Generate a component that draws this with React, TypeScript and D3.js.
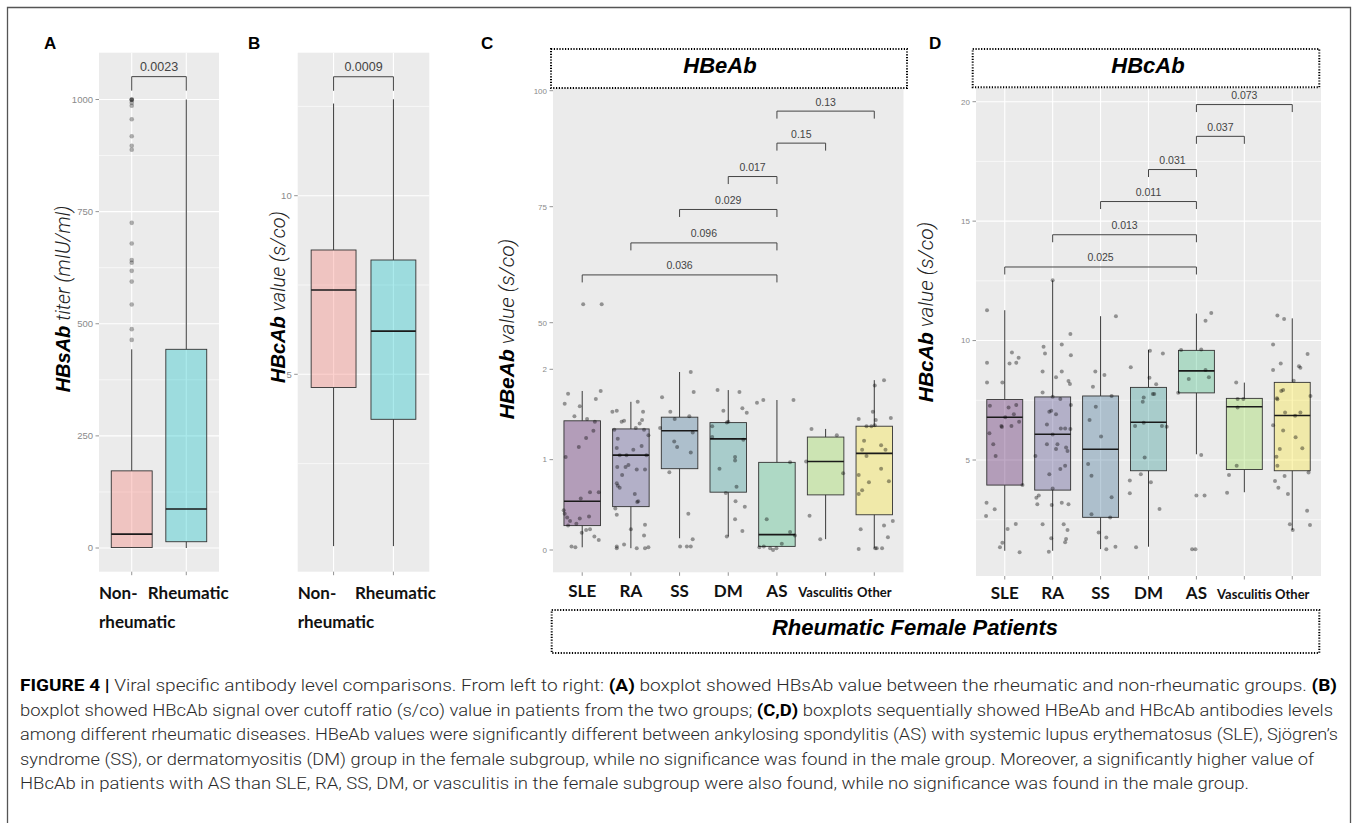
import React from "react";
import * as d3 from "d3";

const W = 1357;
const H = 823;

// ---------- Panel A : HBsAb titer ----------
const abCategories = ["Non-rheumatic", "Rheumatic"];
const hbsQ1 = [1, 14];
const hbsMedian = [31, 87];
const hbsQ3 = [172, 443];
const hbsLow = [0, 0];
const hbsHigh = [443, 1000];
const hbsOutliers = [464, 488, 543, 594, 618, 636, 642, 679, 725, 888, 897, 918, 956, 986, 993, 999, 1000, 1000];
const hbsTicks = [0, 250, 500, 750, 1000];
const hbsMinor = [125, 375, 625, 875];
const hbsP = "0.0023";

// ---------- Panel B : HBcAb value ----------
const hbcQ1 = [4.63, 3.74];
const hbcMedian = [7.36, 6.21];
const hbcQ3 = [8.48, 8.2];
const hbcLow = [0.19, 0.19];
const hbcHigh = [12.58, 12.7];
const hbcTicks = [5, 10];
const hbcMinor = [2.5, 7.5, 12.5];
const hbcP = "0.0009";

// ---------- Panel C : HBeAb by disease ----------
const diseases = ["SLE", "RA", "SS", "DM", "AS", "Vasculitis", "Other"];
const heQ1 = [0.27, 0.48, 0.9, 0.64, 0.04, 0.61, 0.39];
const heMedian = [0.54, 1.05, 1.32, 1.23, 0.17, 0.98, 1.07];
const heQ3 = [1.43, 1.34, 1.47, 1.41, 0.97, 1.25, 1.37];
const heLow = [0.03, 0.02, 0.13, 0.15, 0.04, 0.12, 0.02];
const heHigh = [1.76, 1.64, 1.97, 1.77, 1.66, 1.34, 1.88];
const heTicks = [0, 1, 2, 50, 75, 100];
const heBracketFrom = [0, 1, 2, 3, 4, 4];
const heBracketTo = [4, 4, 4, 4, 5, 6];
const heBracketLevel = [60.3, 67.2, 74.4, 81.5, 88.7, 95.6];
const heBracketP = ["0.036", "0.096", "0.029", "0.017", "0.15", "0.13"];
// jittered points: [offset within category, value]
const hePoints: [number, number][][] = [
  [[-0.29,1.73],[-0.36,1.62],[0.28,1.67],[0.38,1.76],[-0.05,1.59],[-0.16,1.48],[0.10,1.45],[0.26,1.42],[0.23,1.32],[0.08,1.24],[-0.07,1.14],[-0.34,1.03],[0.16,0.64],[-0.03,0.57],[0.34,0.64],[-0.38,0.44],[-0.36,0.40],[-0.31,0.36],[-0.25,0.32],[-0.29,0.27],[-0.05,0.35],[0.14,0.37],[-0.12,0.29],[-0.01,0.19],[0.08,0.22],[0.16,0.23],[0.25,0.15],[0.34,0.11],[-0.22,0.04],[-0.14,0.03],[0.02,54],[0.4,54]],
  [[-0.38,1.53],[-0.29,1.54],[-0.19,1.42],[-0.14,1.43],[0.14,1.64],[0.25,1.53],[0.18,1.40],[0.23,1.44],[0.10,1.35],[-0.34,1.33],[-0.27,1.23],[-0.29,1.13],[-0.23,1.05],[-0.09,1.05],[0.05,1.11],[0.22,1.15],[0.36,1.27],[0.27,1.33],[0.32,1.05],[-0.28,0.92],[-0.11,0.92],[-0.05,0.94],[-0.18,0.83],[0.12,0.89],[0.29,0.89],[-0.29,0.74],[-0.27,0.71],[-0.23,0.69],[0.08,0.62],[0.15,0.54],[0.13,0.53],[-0.29,0.39],[-0.32,0.46],[0.0,0.23],[0.29,0.28],[0.27,0.16],[-0.29,0.04],[-0.29,0.02],[-0.14,0.06],[0.12,0.02],[0.29,0.02],[0.36,0.03]],
  [[-0.36,1.69],[-0.19,1.53],[-0.40,1.35],[-0.10,1.45],[-0.11,1.20],[-0.05,1.14],[0.20,1.48],[0.27,1.30],[0.23,1.08],[0.29,1.75],[0.23,1.97],[-0.21,0.86],[0.18,0.40],[0.01,0.04],[0.15,0.04],[0.23,0.04],[0.27,0.12]],
  [[-0.22,1.77],[0.23,1.75],[-0.10,1.54],[0.29,1.57],[0.38,1.52],[-0.33,1.37],[0.0,1.42],[-0.03,1.41],[-0.33,1.25],[0.31,1.22],[0.14,1.03],[0.14,0.99],[-0.18,0.90],[0.17,0.70],[-0.05,0.63],[0.15,0.54],[0.34,0.48],[0.14,0.34],[0.29,0.21],[-0.03,0.15]],
  [[-0.41,1.63],[-0.28,1.66],[0.34,1.66],[-0.21,0.34],[0.27,0.97],[-0.36,0.03],[-0.27,0.04],[-0.14,0.02],[-0.08,0.0],[-0.01,0.02],[0.10,0.07],[0.27,0.20],[0.37,0.16]],
  [[-0.29,1.34],[-0.40,0.98],[0.23,1.27],[0.36,0.85],[-0.33,0.38],[-0.11,0.12]],
  [[-0.32,1.45],[-0.16,1.37],[-0.06,1.37],[0.01,1.38],[0.03,1.44],[-0.03,1.53],[0.01,1.82],[0.20,1.88],[0.34,1.46],[-0.21,1.21],[0.14,1.16],[-0.25,1.11],[-0.16,1.04],[0.23,1.11],[0.14,0.90],[-0.32,0.83],[-0.11,0.75],[0.30,0.76],[-0.25,0.66],[-0.32,0.62],[-0.28,0.23],[0.20,0.27],[0.38,0.32],[0.28,0.14],[-0.32,0.01],[0.02,0.02],[0.05,0.02],[0.16,0.02]],
];

// ---------- Panel D : HBcAb by disease ----------
const hcQ1 = [3.95, 3.74, 2.6, 4.55, 7.81, 4.6, 4.55];
const hcMedian = [6.79, 6.08, 5.45, 6.58, 8.73, 7.23, 6.86];
const hcQ3 = [7.53, 7.64, 7.68, 8.04, 9.59, 7.58, 8.25];
const hcLow = [1.2, 1.2, 1.27, 1.37, 5.24, 3.65, 2.07];
const hcHigh = [11.27, 12.52, 11.02, 9.61, 11.13, 8.24, 10.93];
const hcTicks = [5, 10, 15, 20];
const hcMinor = [2.5, 7.5, 12.5, 17.5];
const hcBracketFrom = [0, 1, 2, 3, 4, 4];
const hcBracketTo = [4, 4, 4, 4, 5, 6];
const hcBracketLevel = [13.08, 14.43, 15.82, 17.16, 18.55, 19.88];
const hcBracketP = ["0.025", "0.013", "0.011", "0.031", "0.037", "0.073"];
const hcPoints: [number, number][][] = [
  [[-0.37,9.07],[-0.37,8.24],[-0.05,8.24],[0.15,9.50],[0.10,9.04],[0.24,9.07],[0.29,9.28],[-0.31,7.27],[0.08,7.20],[0.24,7.30],[0.19,6.92],[-0.32,6.12],[-0.24,5.66],[-0.19,5.17],[-0.07,6.42],[-0.06,6.38],[0.01,6.79],[0.14,6.42],[0.30,6.60],[0.37,3.95],[-0.38,3.21],[-0.21,2.94],[-0.39,2.66],[0.06,2.11],[0.23,2.32],[-0.05,1.54],[-0.10,1.35],[0.31,1.14],[-0.37,11.27]],
  [[-0.19,9.74],[-0.16,9.46],[0.37,10.27],[0.19,9.84],[0.38,9.39],[-0.21,8.70],[0.19,8.70],[0.07,8.46],[0.33,8.31],[0.36,8.18],[-0.21,7.83],[0.0,7.65],[0.16,7.55],[0.38,7.30],[-0.03,7.06],[-0.07,7.02],[0.07,6.92],[-0.12,6.49],[0.17,6.32],[0.26,6.32],[0.37,6.30],[0.0,6.07],[-0.12,5.66],[0.10,5.66],[0.31,5.38],[0.28,5.52],[-0.36,5.17],[0.07,5.46],[0.16,4.62],[0.26,4.76],[-0.07,4.40],[0.0,3.81],[-0.34,3.42],[-0.29,3.51],[-0.32,3.15],[-0.02,3.12],[0.19,3.21],[0.33,3.15],[-0.21,2.31],[0.23,2.31],[0.31,2.07],[-0.03,1.72],[0.28,1.69],[0.26,1.56],[-0.08,1.16],[0.0,12.52]],
  [[-0.11,8.70],[0.08,8.56],[-0.16,8.07],[0.23,7.68],[-0.10,7.23],[-0.23,6.67],[0.01,5.98],[-0.26,4.83],[-0.19,4.34],[0.23,3.44],[-0.19,2.73],[0.20,2.59],[-0.04,1.97],[0.12,1.76],[0.12,1.26],[0.31,1.37],[0.32,11.02]],
  [[-0.37,8.88],[0.03,9.57],[0.30,9.46],[0.02,8.44],[0.16,8.17],[0.12,7.76],[0.09,7.76],[-0.10,7.62],[-0.12,7.44],[-0.28,6.42],[-0.10,6.56],[0.28,6.42],[0.38,6.39],[-0.08,5.10],[-0.16,4.40],[-0.39,4.14],[0.05,4.07],[-0.39,3.61],[0.23,2.95],[-0.26,1.35]],
  [[-0.32,9.60],[0.10,9.63],[0.19,8.77],[-0.16,8.39],[0.26,8.46],[-0.38,7.82],[0.19,10.83],[0.31,11.15],[0.10,5.21],[0.0,3.51],[0.17,3.51],[-0.09,1.26],[-0.02,1.26]],
  [[-0.17,8.24],[-0.14,7.55],[-0.02,7.55],[-0.14,7.20],[-0.16,4.76],[-0.32,4.37],[-0.36,3.63]],
  [[-0.40,9.84],[-0.40,8.77],[-0.24,9.04],[0.14,8.93],[0.17,8.86],[0.32,9.44],[0.03,8.32],[-0.19,7.93],[-0.23,7.89],[-0.32,7.58],[-0.31,7.54],[0.38,7.68],[-0.15,6.99],[0.17,6.99],[0.06,6.85],[-0.40,6.46],[-0.19,6.23],[0.07,5.95],[-0.26,5.46],[0.21,5.49],[-0.33,5.14],[-0.31,4.76],[0.34,4.48],[-0.16,4.33],[-0.36,4.12],[-0.29,3.84],[-0.09,3.58],[0.31,2.88],[-0.05,2.31],[0.01,2.07],[0.37,2.28],[-0.31,11.05],[-0.17,10.90]],
];

const abColors = ["#F8766D", "#00BFC4"];
const diseaseColors = ["#440154", "#443983", "#31688E", "#21908C", "#35B779", "#8FD744", "#FDE725"];

const captionLines: { t: string; b?: boolean }[][] = [
  [{ t: "FIGURE 4 | ", b: true }, { t: "Viral specific antibody level comparisons. From left to right: " }, { t: "(A)", b: true }, { t: " boxplot showed HBsAb value between the rheumatic and non-rheumatic groups. " }, { t: "(B)", b: true }],
  [{ t: "boxplot showed HBcAb signal over cutoff ratio (s/co) value in patients from the two groups; " }, { t: "(C,D)", b: true }, { t: " boxplots sequentially showed HBeAb and HBcAb antibodies levels" }],
  [{ t: "among different rheumatic diseases. HBeAb values were significantly different between ankylosing spondylitis (AS) with systemic lupus erythematosus (SLE), Sjögren’s" }],
  [{ t: "syndrome (SS), or dermatomyositis (DM) group in the female subgroup, while no significance was found in the male group. Moreover, a significantly higher value of" }],
  [{ t: "HBcAb in patients with AS than SLE, RA, SS, DM, or vasculitis in the female subgroup were also found, while no significance was found in the male group." }],
];
const captionEnds = [1337, 1333, 1338, 1314, 1249];

const AXIS_FONT = "'Liberation Sans', Arial, Helvetica, sans-serif";
const LABEL_FONT = "Lato, 'Open Sans', sans-serif";

type PanelProps = {
  left: number; right: number; top: number; bottom: number; n: number;
  y: (v: number) => number;
  q1: number[]; med: number[]; q3: number[]; lo: number[]; hi: number[];
  fills: string[]; fillOpacity: number;
  points?: [number, number][][];
  outliers?: number[];
  gridMajor: number[]; gridMinor: number[]; vertical: boolean;
  ticks: number[]; tickSize: number;
};

function BoxPanel(p: PanelProps) {
  const x = d3.scaleLinear().domain([-0.6, p.n - 0.4]).range([p.left, p.right]);
  const step = x(1) - x(0);
  const bw = step * 0.75;
  const inside = (v: number) => p.y(v) >= p.top && p.y(v) <= p.bottom;
  const idx = d3.range(p.n);
  return (
    <g>
      <rect x={p.left} y={p.top} width={p.right - p.left} height={p.bottom - p.top} fill="#EBEBEB" />
      {p.gridMinor.filter(inside).map((v) => (
        <line key={"mi" + v} x1={p.left} x2={p.right} y1={p.y(v)} y2={p.y(v)} stroke="#fff" strokeWidth={0.6} />
      ))}
      {p.gridMajor.filter(inside).map((v) => (
        <line key={"ma" + v} x1={p.left} x2={p.right} y1={p.y(v)} y2={p.y(v)} stroke="#fff" strokeWidth={1.1} />
      ))}
      {p.vertical && idx.map((i) => (
        <line key={"v" + i} x1={x(i)} x2={x(i)} y1={p.top} y2={p.bottom} stroke="#fff" strokeWidth={1.1} />
      ))}
      {idx.map((i) => (
        <g key={"b" + i}>
          <line x1={x(i)} x2={x(i)} y1={p.y(p.hi[i])} y2={p.y(p.q3[i])} stroke="#3a3a3a" strokeWidth={1} />
          <line x1={x(i)} x2={x(i)} y1={p.y(p.q1[i])} y2={p.y(p.lo[i])} stroke="#3a3a3a" strokeWidth={1} />
          <rect x={x(i) - bw / 2} y={p.y(p.q3[i])} width={bw} height={p.y(p.q1[i]) - p.y(p.q3[i])}
            fill={p.fills[i]} fillOpacity={p.fillOpacity} stroke="#333" strokeWidth={0.9} />
          <line x1={x(i) - bw / 2} x2={x(i) + bw / 2} y1={p.y(p.med[i])} y2={p.y(p.med[i])} stroke="#1a1a1a" strokeWidth={1.6} />
        </g>
      ))}
      {p.outliers && p.outliers.map((v, k) => (
        <circle key={"o" + k} cx={x(0)} cy={p.y(v)} r={2.3} fill="#000" fillOpacity={0.3} />
      ))}
      {p.points && p.points.map((grp, i) => grp.map(([o, v], k) => (
        <circle key={"p" + i + "_" + k} cx={x(i + o)} cy={p.y(v)} r={2} fill="#000" fillOpacity={0.38} />
      )))}
      {p.ticks.map((v) => (
        <g key={"t" + v}>
          <line x1={p.left - 3.5} x2={p.left} y1={p.y(v)} y2={p.y(v)} stroke="#777" strokeWidth={0.8} />
          <text x={p.left - 6} y={p.y(v)} dy="0.35em" textAnchor="end" fontFamily={AXIS_FONT}
            fontSize={p.tickSize} fill="#8a8a8a">{v}</text>
        </g>
      ))}
      {idx.map((i) => (
        <line key={"xt" + i} x1={x(i)} x2={x(i)} y1={p.bottom} y2={p.bottom + 3.5} stroke="#777" strokeWidth={0.8} />
      ))}
    </g>
  );
}

function Bracket({ x1, x2, yLine, tip, label, fontSize, gap }: { x1: number; x2: number; yLine: number; tip: number; label: string; fontSize: number; gap: number }) {
  return (
    <g>
      <path d={`M${x1},${yLine + tip}V${yLine}H${x2}V${yLine + tip}`} fill="none" stroke="#444" strokeWidth={1} />
      <text x={(x1 + x2) / 2} y={yLine - gap} textAnchor="middle" fontFamily={AXIS_FONT} fontSize={fontSize} fill="#444">{label}</text>
    </g>
  );
}

function YTitle({ x, y, bold, light, size }: { x: number; y: number; bold: string; light: string; size: number }) {
  return (
    <text transform={`translate(${x},${y}) rotate(-90)`} textAnchor="middle" fontSize={size}>
      <tspan fontFamily={AXIS_FONT} fontWeight={700} fontStyle="italic" fill="#000">{bold}</tspan>
      <tspan fontFamily="Roboto, sans-serif" fontWeight={300} fontStyle="italic" fill="#222">{" " + light}</tspan>
    </text>
  );
}

export default function App() {
  // Panel geometry
  const A = { left: 99, right: 219, top: 52.7, bottom: 571.7 };
  const B = { left: 297.7, right: 429.3, top: 52.7, bottom: 571.7 };
  const C = { left: 553, right: 903.5, top: 88, bottom: 572.3 };
  const D = { left: 976, right: 1321, top: 88, bottom: 576 };

  const yA = d3.scaleLinear().domain([0, 1000]).range([548, 99.5]);
  const yB = d3.scaleLinear().domain([5, 10]).range([374.3, 195.7]);
  const yC = d3.scaleLinear().domain([0, 2, 50, 100]).range([550, 369.3, 322.7, 90.7]);
  const yD = d3.scaleLinear().domain([5, 20]).range([460, 101.7]);

  const xA = d3.scaleLinear().domain([-0.6, 1.6]).range([A.left, A.right]);
  const xB = d3.scaleLinear().domain([-0.6, 1.6]).range([B.left, B.right]);
  const xC = d3.scaleLinear().domain([-0.6, 6.6]).range([C.left, C.right]);
  const xD = d3.scaleLinear().domain([-0.6, 6.6]).range([D.left, D.right]);

  const catLabelSize = (s: string) => (s.length > 3 ? 13 : 17);

  return (
    <svg width={W} height={H} style={{ position: "absolute", left: 0, top: 0, background: "#fff" }}>
      <rect x={0} y={0} width={W} height={H} fill="#fff" />
      {/* outer frame */}
      <path d={`M7.5,${H + 5}V7.5H1350.5V${H + 5}`} fill="none" stroke="#555" strokeWidth={1.3} />

      {/* panel letters */}
      {[["A", 44], ["B", 248], ["C", 481], ["D", 929]].map(([t, x]) => (
        <text key={t as string} x={x as number} y={49} fontFamily={AXIS_FONT} fontWeight={700} fontSize={17} fill="#000">{t}</text>
      ))}

      {/* Panel A */}
      <BoxPanel {...A} n={2} y={yA} q1={hbsQ1} med={hbsMedian} q3={hbsQ3} lo={hbsLow} hi={hbsHigh}
        fills={abColors} fillOpacity={0.33} outliers={hbsOutliers}
        gridMajor={hbsTicks} gridMinor={hbsMinor} vertical={true} ticks={hbsTicks} tickSize={9.5} />
      <Bracket x1={xA(0)} x2={xA(1)} yLine={yA(1051)} tip={14} label={hbsP} fontSize={12.5} gap={6} />
      <YTitle x={70} y={299} bold="HBsAb" light="titer (mIU/ml)" size={20} />
      <text x={A.left} y={599} fontFamily={LABEL_FONT} fontWeight={700} fontSize={17} fill="#111">Non-</text>
      <text x={A.left} y={628} fontFamily={LABEL_FONT} fontWeight={700} fontSize={17} fill="#111">{abCategories[0].split("-")[1]}</text>
      <text x={xA(1) + 2} y={599} textAnchor="middle" fontFamily={LABEL_FONT} fontWeight={700} fontSize={17} fill="#111">{abCategories[1]}</text>

      {/* Panel B */}
      <BoxPanel {...B} n={2} y={yB} q1={hbcQ1} med={hbcMedian} q3={hbcQ3} lo={hbcLow} hi={hbcHigh}
        fills={abColors} fillOpacity={0.33}
        gridMajor={hbcTicks} gridMinor={hbcMinor} vertical={true} ticks={hbcTicks} tickSize={9.5} />
      <Bracket x1={xB(0)} x2={xB(1)} yLine={yB(13.33)} tip={14} label={hbcP} fontSize={12.5} gap={6} />
      <YTitle x={284.5} y={297} bold="HBcAb" light="value (s/co)" size={20} />
      <text x={B.left} y={599} fontFamily={LABEL_FONT} fontWeight={700} fontSize={17} fill="#111">Non-</text>
      <text x={B.left} y={628} fontFamily={LABEL_FONT} fontWeight={700} fontSize={17} fill="#111">{abCategories[0].split("-")[1]}</text>
      <text x={xB(1) + 2} y={599} textAnchor="middle" fontFamily={LABEL_FONT} fontWeight={700} fontSize={17} fill="#111">{abCategories[1]}</text>

      {/* Panel C */}
      <BoxPanel {...C} n={7} y={yC} q1={heQ1} med={heMedian} q3={heQ3} lo={heLow} hi={heHigh}
        fills={diseaseColors} fillOpacity={0.33} points={hePoints}
        gridMajor={[]} gridMinor={[]} vertical={false} ticks={heTicks} tickSize={8} />
      {heBracketP.map((lab, k) => (
        <Bracket key={"cb" + k} x1={xC(heBracketFrom[k])} x2={xC(heBracketTo[k])} yLine={yC(heBracketLevel[k])}
          tip={7.5} label={lab} fontSize={10.5} gap={5.5} />
      ))}
      <rect x={551} y={49} width={356} height={39} fill="#fff" stroke="#000" strokeWidth={2} strokeDasharray="1.2 1.6" />
      <text x={720} y={72.5} textAnchor="middle" fontFamily={AXIS_FONT} fontWeight={700} fontStyle="italic" fontSize={22}>HBeAb</text>
      <YTitle x={514} y={329} bold="HBeAb" light="value (s/co)" size={21} />
      {diseases.map((d, i) => (
        <text key={"cl" + d} x={xC(i)} y={597} textAnchor="middle" fontFamily={LABEL_FONT} fontWeight={700}
          fontSize={catLabelSize(d)} fill="#111">{d}</text>
      ))}

      {/* Panel D */}
      <BoxPanel {...D} n={7} y={yD} q1={hcQ1} med={hcMedian} q3={hcQ3} lo={hcLow} hi={hcHigh}
        fills={diseaseColors} fillOpacity={0.33} points={hcPoints}
        gridMajor={hcTicks} gridMinor={hcMinor} vertical={true} ticks={hcTicks} tickSize={8} />
      {hcBracketP.map((lab, k) => (
        <Bracket key={"db" + k} x1={xD(hcBracketFrom[k])} x2={xD(hcBracketTo[k])} yLine={yD(hcBracketLevel[k])}
          tip={7.5} label={lab} fontSize={10.5} gap={5.5} />
      ))}
      <rect x={972.7} y={49} width={346.6} height={38.3} fill="#fff" stroke="#000" strokeWidth={2} strokeDasharray="1.2 1.6" />
      <text x={1148} y={72.5} textAnchor="middle" fontFamily={AXIS_FONT} fontWeight={700} fontStyle="italic" fontSize={22}>HBcAb</text>
      <YTitle x={933} y={312} bold="HBcAb" light="value (s/co)" size={21} />
      {diseases.map((d, i) => (
        <text key={"dl" + d} x={xD(i)} y={599} textAnchor="middle" fontFamily={LABEL_FONT} fontWeight={700}
          fontSize={catLabelSize(d)} fill="#111">{d}</text>
      ))}

      {/* bottom facet label */}
      <rect x={551.7} y={610} width={767.6} height={43} fill="#fff" stroke="#000" strokeWidth={2} strokeDasharray="1.2 1.6" />
      <text x={915} y={634.5} textAnchor="middle" fontFamily={AXIS_FONT} fontWeight={700} fontStyle="italic" fontSize={22}>Rheumatic Female Patients</text>

      {/* caption */}
      {captionLines.map((spans, li) => (
        <text key={"cap" + li} x={20} y={691 + li * 24.5} fontFamily="Roboto, sans-serif" fontSize={16} fill="#2a2a2a"
          textLength={captionEnds[li] - 20} lengthAdjust="spacingAndGlyphs">
          {spans.map((s, si) => (
            <tspan key={si} fontWeight={s.b ? 700 : 300} fill={s.b ? "#000" : "#2a2a2a"}>{s.t}</tspan>
          ))}
        </text>
      ))}
    </svg>
  );
}
